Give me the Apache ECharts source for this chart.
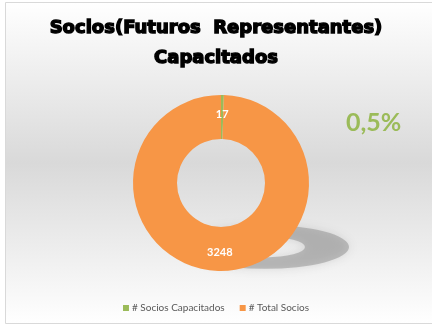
<!DOCTYPE html>
<html>
<head>
<meta charset="utf-8">
<script src="https://cdn.jsdelivr.net/npm/echarts@6/dist/echarts.min.js"></script>
<style>
  html, body { margin: 0; padding: 0; background: #ffffff; }
  #chart { width: 432px; height: 328px; }
</style>
</head>
<body>
<div id="chart"></div>
<script>
// Trained members vs. total members
const categories = ['# Socios Capacitados', '# Total Socios'];
const values = [17, 3248];
const colors = ['#9bbb59', '#f79646'];
const titleLines = ['Socios(Futuros  Representantes)', 'Capacitados'];

const share = (values[0] / values[1] * 100).toFixed(1).replace('.', ',') + '%';

const chart = echarts.init(document.getElementById('chart'), null, { renderer: 'canvas' });

chart.setOption({
  backgroundColor: '#ffffff',
  animation: false,
  title: [
    {
      text: titleLines.join('\n'),
      left: 'center',
      top: 8,
      textStyle: {
        fontFamily: 'DejaVu Sans',
        fontWeight: 'bold',
        fontSize: 18,
        lineHeight: 30,
        color: '#000000',
        textBorderColor: '#000000',
        textBorderWidth: 1.4
      }
    },
    {
      text: share,
      left: 341,
      top: 105,
      textStyle: {
        fontFamily: 'Lato',
        fontWeight: 'bold',
        fontSize: 25,
        color: '#9bbb59'
      }
    }
  ],
  legend: {
    bottom: 10,
    left: 'center',
    icon: 'rect',
    itemWidth: 6,
    itemHeight: 6,
    itemGap: 15,
    data: categories,
    textStyle: {
      fontFamily: 'Lato',
      fontSize: 10,
      color: '#595959',
      padding: [0, 0, 0, -2]
    }
  },
  graphic: [
    {
      // chart frame with its soft vertical gradient
      type: 'rect',
      z: -20,
      shape: { x: 5.5, y: 2.5, width: 440, height: 321 },
      style: {
        fill: new echarts.graphic.LinearGradient(0, 0, 0, 1, [
          { offset: 0, color: '#ffffff' },
          { offset: 0.5, color: '#d9d9d9' },
          { offset: 1, color: '#ffffff' }
        ]),
        stroke: '#d9d9d9',
        lineWidth: 1
      }
    },
    {
      // flattened shadow cast by the ring
      type: 'ring',
      z: -10,
      x: 265,
      y: 247,
      scaleX: 1,
      scaleY: 0.26,
      shape: { cx: 0, cy: 0, r: 84, r0: 40 },
      style: {
        fill: 'rgba(130,130,130,0.45)',
        shadowColor: 'rgba(130,130,130,0.5)',
        shadowBlur: 10
      }
    }
  ],
  series: [
    {
      type: 'pie',
      center: [221, 183],
      radius: [44, 88],
      startAngle: 90,
      clockwise: true,
      avoidLabelOverlap: false,
      label: {
        show: true,
        position: 'inside',
        formatter: '{c}',
        color: '#ffffff',
        fontFamily: 'Lato',
        fontWeight: 'bold',
        fontSize: 11
      },
      labelLine: { show: false },
      emphasis: { disabled: true },
      data: categories.map((name, i) => ({
        name: name,
        value: values[i],
        itemStyle: { color: colors[i] }
      }))
    }
  ]
});
</script>
</body>
</html>
